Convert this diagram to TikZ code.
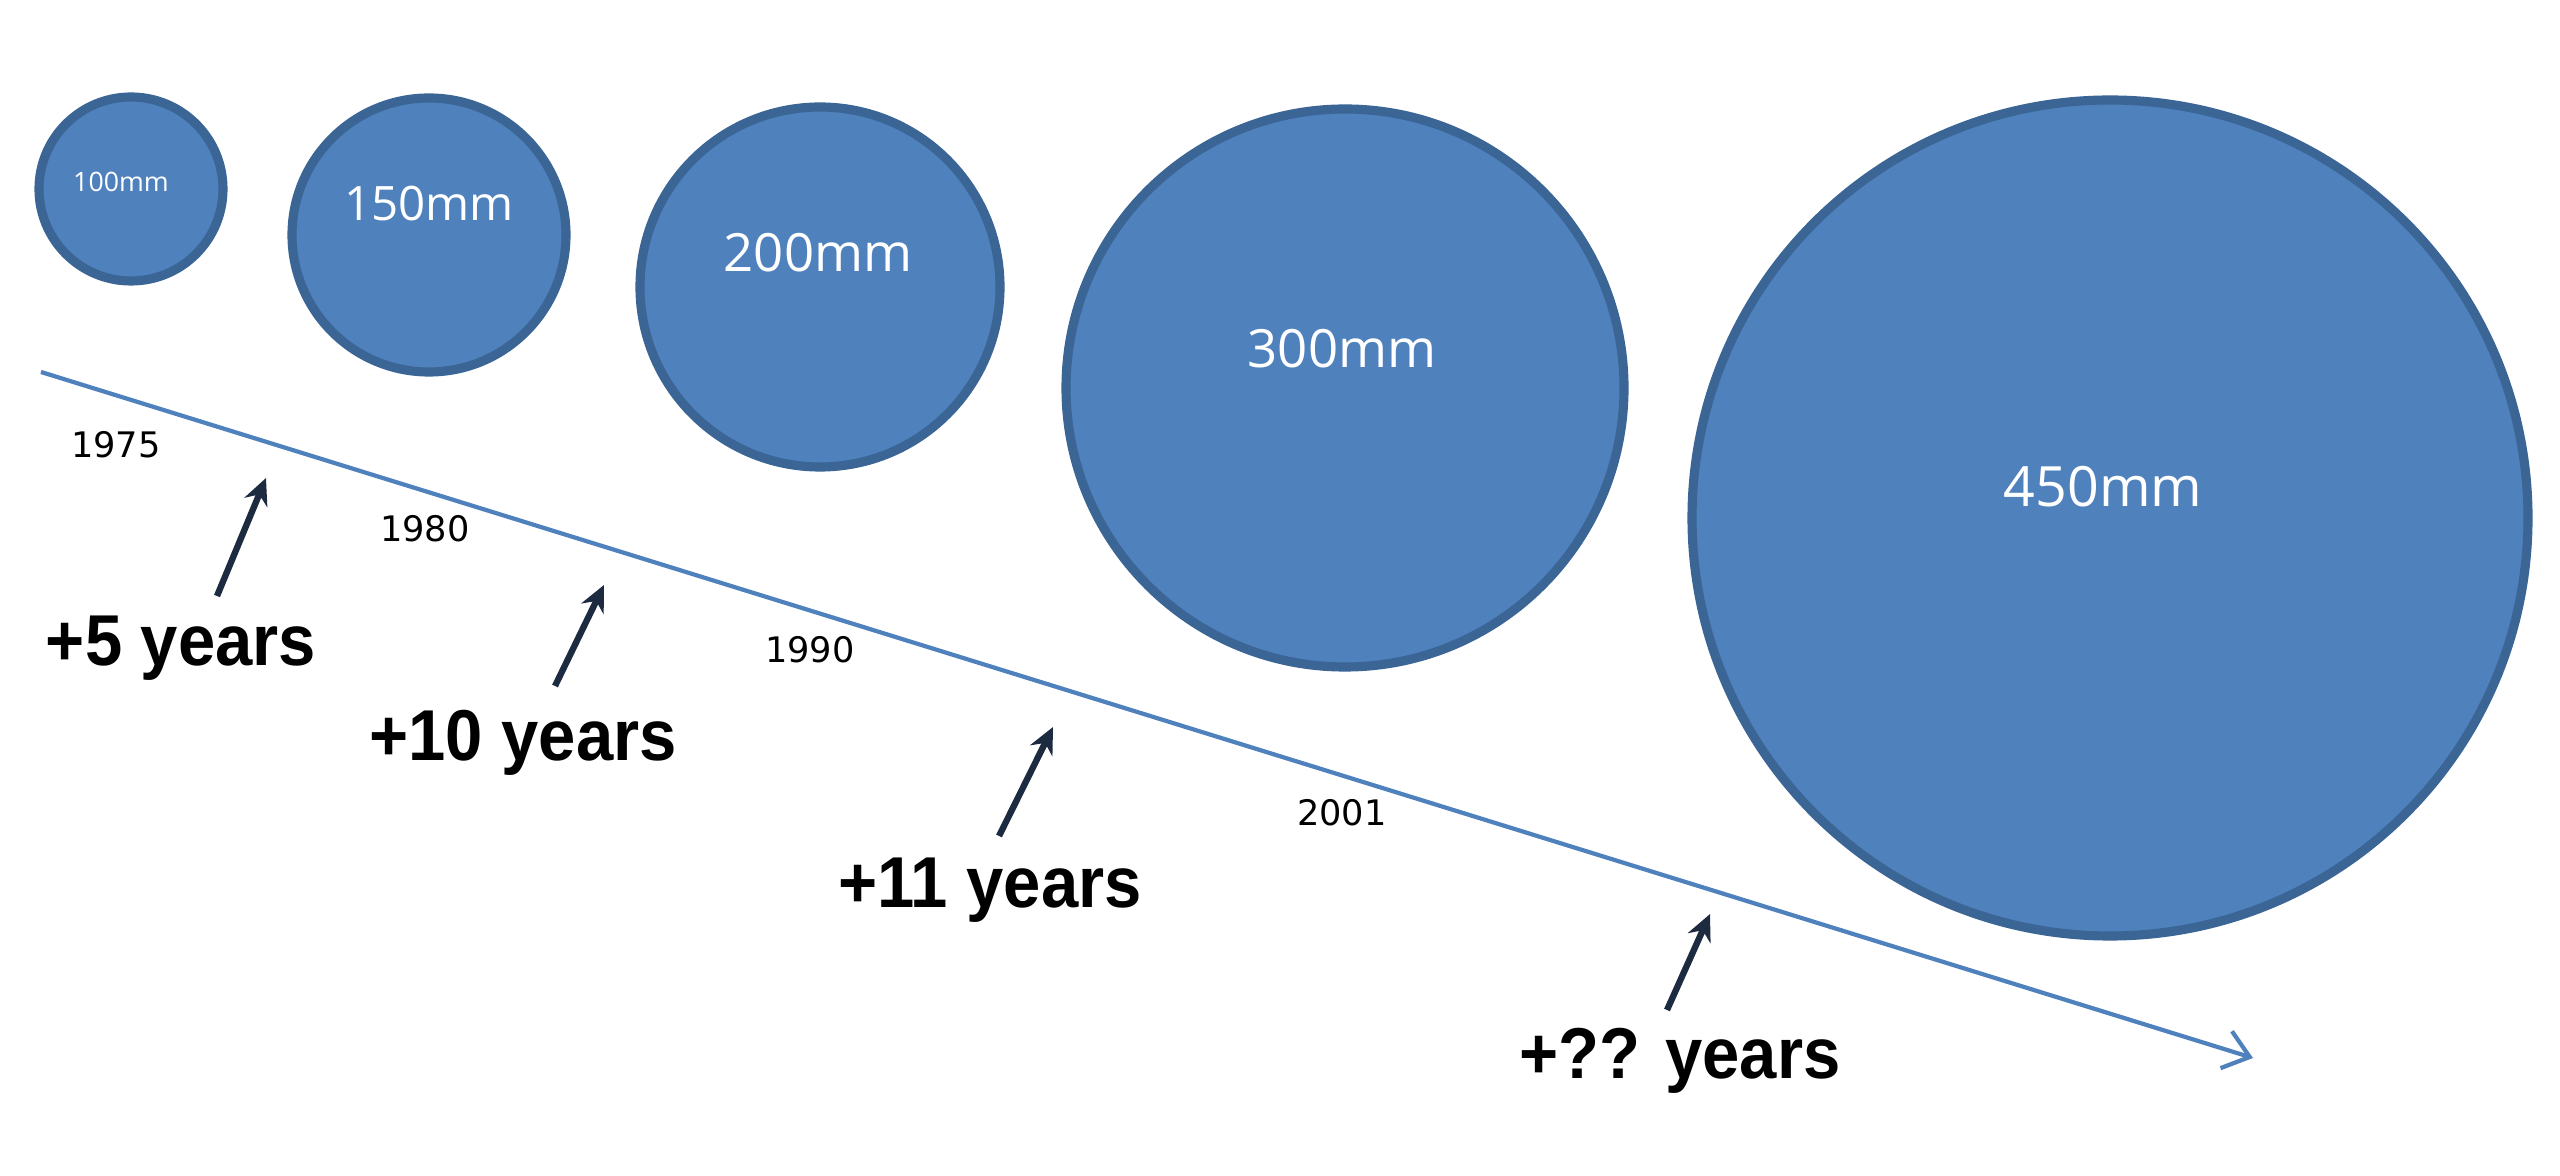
\documentclass[tikz,border=0pt]{standalone}
\usepackage{fontspec}
\newfontfamily\yearfont{DejaVu Sans}
\newfontfamily\sizefont{Open Sans}
\newfontfamily\gapfont[FakeStretch=0.93]{Liberation Sans}
\usepackage{tikz}
\usetikzlibrary{arrows.meta, positioning}
\definecolor{waferblue}{HTML}{4F81BD}
\definecolor{waferedge}{HTML}{3A6595}
\definecolor{pointerink}{HTML}{1C2B3F}
\tikzset{
	wafer/.style={
			shape=circle,
			draw=waferedge,
			line width=2.6pt,
			fill=waferblue,
			inner sep=0pt
		}
}
\tikzset{
	sizetext/.style={text=white, inner sep=0pt, font=\sizefont\fontsize{#1}{#1}\selectfont},
	yeartext/.style={text=black, inner sep=0pt, font=\yearfont\fontsize{10}{12}\selectfont},
	gaptext/.style={text=black, inner sep=0pt, font=\gapfont\bfseries\fontsize{20.5}{24}\selectfont},
	timeline/.style={draw=waferblue, line width=1.2pt, -{Straight Barb[length=7pt,width=11pt]}},
	pointer/.style={draw=pointerink, line width=1.8pt, -{Stealth[length=7.5pt,width=7pt]}}
}

\begin{document}
\begin{tikzpicture}

              \useasboundingbox (0,0) rectangle (25.6,-11.76);

              \coordinate (w1) at (1.31,-1.89);
              \coordinate (w2) at (4.29,-2.35);
              \coordinate (w3) at (8.20,-2.87);
              \coordinate (w4) at (13.45,-3.88);
              \coordinate (w5) at (21.10,-5.18);

              \node[wafer, minimum size=18.4mm] (c1) at (w1) {};
              \node[wafer, minimum size=27.4mm] (c2) at (w2) {};
              \node[wafer, minimum size=36.0mm] (c3) at (w3) {};
              \node[wafer, minimum size=55.8mm] (c4) at (w4) {};
              \node[wafer, minimum size=83.6mm] (c5) at (w5) {};

              \node[sizetext=7.6] (s1) at (1.21,-1.82) {100mm};
              \node[sizetext=13.5] (s2) at (4.29,-2.04) {150mm};
              \node[sizetext=15] (s3) at (8.18,-2.53) {200mm};
              \node[sizetext=15] (s4) at (13.42,-3.49) {300mm};
              \node[sizetext=15.8] (s5) at (21.03,-4.87) {450mm};

              \coordinate (tl0) at (0.41,-3.72);
              \coordinate (tl1) at (22.53,-10.58);
              \draw[timeline] (tl0) -- (tl1);

              \node[yeartext] (y1) at (1.16,-4.45) {1975};
              \node[yeartext] (y2) at (4.25,-5.29) {1980};
              \node[yeartext] (y3) at (8.10,-6.50) {1990};
              \node[yeartext] (y4) at (13.42,-8.13) {2001};

              \node[gaptext] (g1) at (1.81,-6.48) {+5 years};
              \node[gaptext] (g2) at (5.23,-7.43) {+10 years};
              \node[gaptext] (g3) at (9.90,-8.90) {+11 years};
              \node[gaptext] (g4) at (16.80,-10.61) {+?? years};

              \coordinate (p1) at (2.17,-5.96);
              \coordinate (q1) at (2.66,-4.78);
              \coordinate (p2) at (5.55,-6.86);
              \coordinate (q2) at (6.04,-5.85);
              \coordinate (p3) at (9.99,-8.36);
              \coordinate (q3) at (10.53,-7.27);
              \coordinate (p4) at (16.67,-10.10);
              \coordinate (q4) at (17.10,-9.14);

              \draw[pointer] (p1) -- (q1);
              \draw[pointer] (p2) -- (q2);
              \draw[pointer] (p3) -- (q3);
              \draw[pointer] (p4) -- (q4);

            \end{tikzpicture}
\end{document}
